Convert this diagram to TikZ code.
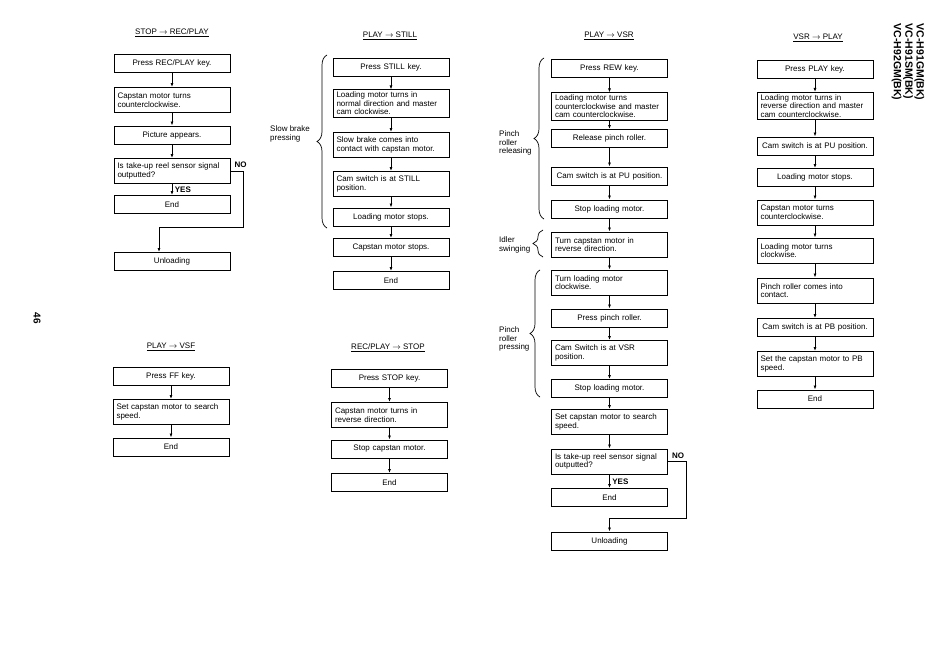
\documentclass[tikz,border=0pt]{standalone}
\usepackage{fontspec}
\setmainfont{Liberation Sans}
\usetikzlibrary{arrows.meta, positioning, decorations.pathreplacing}

\newcommand{\boxfont}{\fontsize{8}{8.6}\selectfont}

\begin{document}
\begin{tikzpicture}[
    x=1pt, y=-1pt,
    stepbox/.style={draw, line width=1pt, text width=109pt, inner xsep=3.5pt, inner ysep=2pt, minimum height=18pt, align=center, font=\boxfont},
    stepl/.style={stepbox, align=left, minimum height=25pt},
    title/.style={font=\boxfont},
    note/.style={font=\boxfont, align=left, anchor=west, inner sep=0pt},
    yes/.style={font=\boxfont\bfseries, inner sep=1pt},
    arr/.style={line width=0.8pt, -{Latex[length=4pt, width=3pt]}},
    brc/.style={line width=0.7pt, decorate, decoration={brace, amplitude=10pt}}
]
    \fill[white] (0,0) rectangle (950,670);
    \useasboundingbox (0,0) rectangle (950,670);

    % STOP -> REC/PLAY
    \node[title] (t1) at (172,33) {\underline{STOP $\rightarrow$ REC/PLAY}};
    \node[stepbox] (sr1) at (172,63.5) {Press REC/PLAY key.};
    \node[stepl] (sr2) at (172,100) {Capstan motor turns\\counterclockwise.};
    \node[stepbox] (sr3) at (172,135) {Picture appears.};
    \node[stepl] (sr4) at (172,171) {Is take-up reel sensor signal\\outputted?};
    \node[stepbox] (sr5) at (172,204.5) {End};
    \node[stepbox] (sr6) at (172,261.5) {Unloading};
    \draw[arr] (sr1) -- (sr2);
    \draw[arr] (sr2) -- (sr3);
    \draw[arr] (sr3) -- (sr4);
    \draw[arr] (sr4) -- node[yes, anchor=west, xshift=1.5pt] {YES} (sr5);
    \draw[arr] (sr4.east) -- ++(13,0) |- ([xshift=-13pt, yshift=25pt]sr6.north) -- ([xshift=-13pt]sr6.north);
    \node[yes, anchor=south west] at ([xshift=3pt, yshift=2pt]sr4.east) {NO};

    % PLAY -> STILL
    \node[title] (t2) at (390,36) {\underline{PLAY $\rightarrow$ STILL}};
    \node[stepbox] (ps1) at (391,67) {Press STILL key.};
    \node[stepl] (ps2) at (391,103.5) {Loading motor turns in\\normal direction and master\\cam clockwise.};
    \node[stepl] (ps3) at (391,145) {Slow brake comes into\\contact with capstan motor.};
    \node[stepl] (ps4) at (391,184) {Cam switch is at STILL\\position.};
    \node[stepbox] (ps5) at (391,217) {Loading motor stops.};
    \node[stepbox] (ps6) at (391,247.5) {Capstan motor stops.};
    \node[stepbox] (ps7) at (391,280.5) {End};
    \draw[arr] (ps1) -- (ps2);
    \draw[arr] (ps2) -- (ps3);
    \draw[arr] (ps3) -- (ps4);
    \draw[arr] (ps4) -- (ps5);
    \draw[arr] (ps5) -- (ps6);
    \draw[arr] (ps6) -- (ps7);
    \draw[brc] (327,228) -- (327,55);
    \node[note] (slow) at (270,134) {Slow brake\\pressing};

    % PLAY -> VSR
    \node[title] (t3) at (609,36) {\underline{PLAY $\rightarrow$ VSR}};
    \node[stepbox] (pv1) at (609.5,68) {Press REW key.};
    \node[stepl] (pv2) at (609.5,106.5) {Loading motor turns\\counterclockwise and master\\cam counterclockwise.};
    \node[stepbox] (pv3) at (609.5,138.5) {Release pinch roller.};
    \node[stepbox] (pv4) at (609.5,176) {Cam switch is at PU position.};
    \node[stepbox] (pv5) at (609.5,209) {Stop loading motor.};
    \node[stepl] (pv6) at (609.5,244.5) {Turn capstan motor in\\reverse direction.};
    \node[stepl] (pv7) at (609.5,282.5) {Turn loading motor\\clockwise.};
    \node[stepbox] (pv8) at (609.5,318) {Press pinch roller.};
    \node[stepl] (pv9) at (609.5,353) {Cam Switch is at VSR\\position.};
    \node[stepbox] (pv10) at (609.5,388.5) {Stop loading motor.};
    \node[stepl] (pv11) at (609.5,422) {Set capstan motor to search\\speed.};
    \node[stepl] (pv12) at (609.5,461.5) {Is take-up reel sensor signal\\outputted?};
    \node[stepbox] (pv13) at (609.5,497.5) {End};
    \node[stepbox] (pv14) at (609.5,541) {Unloading};
    \draw[arr] (pv1) -- (pv2);
    \draw[arr] (pv2) -- (pv3);
    \draw[arr] (pv3) -- (pv4);
    \draw[arr] (pv4) -- (pv5);
    \draw[arr] (pv5) -- (pv6);
    \draw[arr] (pv6) -- (pv7);
    \draw[arr] (pv7) -- (pv8);
    \draw[arr] (pv8) -- (pv9);
    \draw[arr] (pv9) -- (pv10);
    \draw[arr] (pv10) -- (pv11);
    \draw[arr] (pv11) -- (pv12);
    \draw[arr] (pv12) -- node[yes, anchor=west, xshift=1.5pt] {YES} (pv13);
    \draw[arr] (pv12.east) -- ++(18,0) |- ([yshift=13pt]pv14.north) -- (pv14.north);
    \node[yes, anchor=south west] at ([xshift=3pt, yshift=2pt]pv12.east) {NO};
    \draw[brc] (544,219) -- (544,58);
    \draw[brc] (543,257) -- (543,230);
    \draw[brc] (540,397) -- (540,270);
    \node[note] (pinchrel) at (499,143) {Pinch\\roller\\releasing};
    \node[note] (idler) at (499,245) {Idler\\swinging};
    \node[note] (pinchpr) at (499,339) {Pinch\\roller\\pressing};

    % VSR -> PLAY
    \node[title] (t4) at (818,38) {\underline{VSR $\rightarrow$ PLAY}};
    \node[stepbox] (vp1) at (815,69.5) {Press PLAY key.};
    \node[stepl] (vp2) at (815,106) {Loading motor turns in\\reverse direction and master\\cam counterclockwise.};
    \node[stepbox] (vp3) at (815,146) {Cam switch is at PU position.};
    \node[stepbox] (vp4) at (815,177.5) {Loading motor stops.};
    \node[stepl] (vp5) at (815,212.5) {Capstan motor turns\\counterclockwise.};
    \node[stepl] (vp6) at (815,250.5) {Loading motor turns\\clockwise.};
    \node[stepl] (vp7) at (815,290.5) {Pinch roller comes into\\contact.};
    \node[stepbox] (vp8) at (815,327.5) {Cam switch is at PB position.};
    \node[stepl] (vp9) at (815,364) {Set the capstan motor to PB\\speed.};
    \node[stepbox] (vp10) at (815,399) {End};
    \draw[arr] (vp1) -- (vp2);
    \draw[arr] (vp2) -- (vp3);
    \draw[arr] (vp3) -- (vp4);
    \draw[arr] (vp4) -- (vp5);
    \draw[arr] (vp5) -- (vp6);
    \draw[arr] (vp6) -- (vp7);
    \draw[arr] (vp7) -- (vp8);
    \draw[arr] (vp8) -- (vp9);
    \draw[arr] (vp9) -- (vp10);

    % PLAY -> VSF
    \node[title] (t5) at (171,347) {\underline{PLAY $\rightarrow$ VSF}};
    \node[stepbox] (pf1) at (171,376) {Press FF key.};
    \node[stepl] (pf2) at (171,412) {Set capstan motor to search\\speed.};
    \node[stepbox] (pf3) at (171,447) {End};
    \draw[arr] (pf1) -- (pf2);
    \draw[arr] (pf2) -- (pf3);

    % REC/PLAY -> STOP
    \node[title] (t6) at (388,348) {\underline{REC/PLAY $\rightarrow$ STOP}};
    \node[stepbox] (rs1) at (389.5,378.5) {Press STOP key.};
    \node[stepl] (rs2) at (389.5,415) {Capstan motor turns in\\reverse direction.};
    \node[stepbox] (rs3) at (389.5,449) {Stop capstan motor.};
    \node[stepbox] (rs4) at (389.5,482.5) {End};
    \draw[arr] (rs1) -- (rs2);
    \draw[arr] (rs2) -- (rs3);
    \draw[arr] (rs3) -- (rs4);

    % page number and models
    \node[font=\bfseries\fontsize{10}{12}\selectfont, rotate=-90] (pg) at (37,318) {46};
    \node[font=\bfseries\fontsize{10.5}{11.3}\selectfont, rotate=-90, align=left] (mdl) at (908,62) {VC-H91GM(BK)\\VC-H91SM(BK)\\VC-H92GM(BK)};
\end{tikzpicture}
\end{document}
